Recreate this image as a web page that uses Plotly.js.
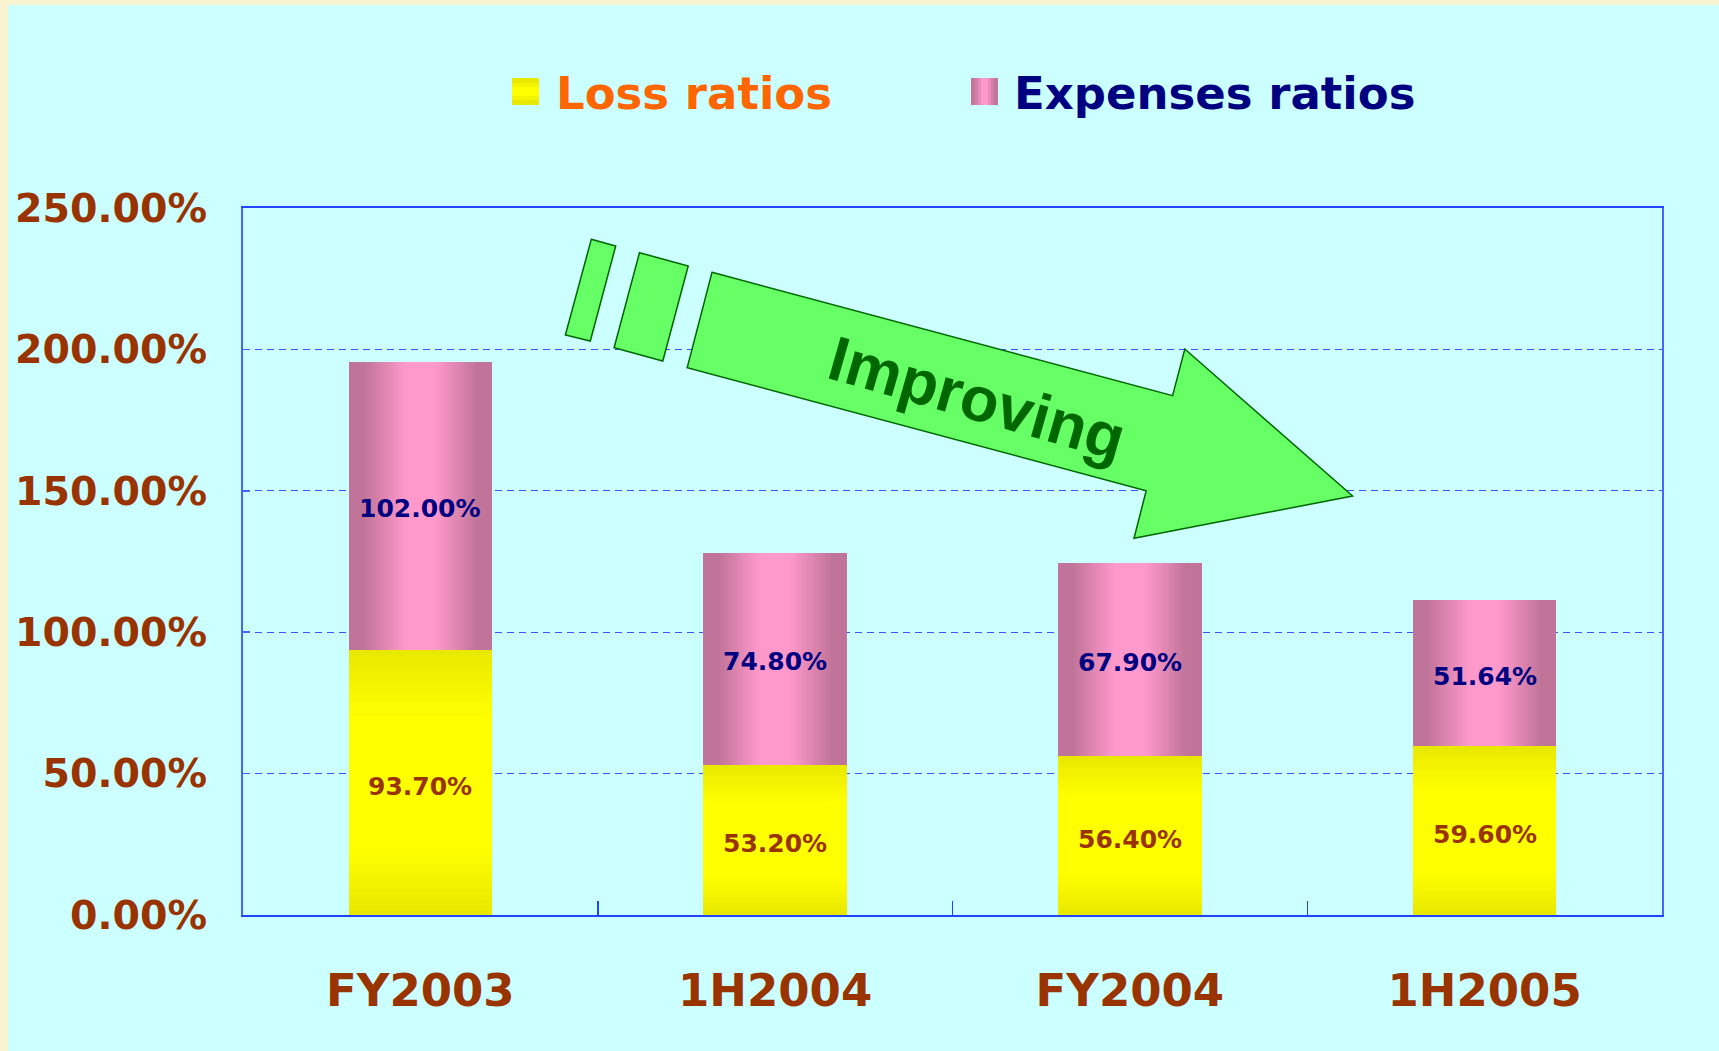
<!DOCTYPE html>
<html><head><meta charset="utf-8">
<script src="https://cdn.plot.ly/plotly-3.0.1.min.js"></script>
<style>html,body{margin:0;padding:0;background:#FAF3D0;overflow:hidden}#chart{width:1719px;height:1051px}</style>
</head><body><div id="chart"></div>
<script>
// ---- data ----
const categories = ['FY2003', '1H2004', 'FY2004', '1H2005'];
const lossRatios = [93.70, 53.20, 56.40, 59.60];
const expenseRatios = [102.00, 74.80, 67.90, 51.64];
const yTickValues = [0, 50, 100, 150, 200, 250];
const yTickLabels = ['0.00%', '50.00%', '100.00%', '150.00%', '200.00%', '250.00%'];
const seriesNames = ['Loss ratios', 'Expenses ratios'];
const arrowLabel = 'Improving';

// ---- geometry helpers (pixels -> paper) ----
const W = 1719, H = 1051, L = 243, R = 1662, T = 208, B = 915;
const pw = R - L, ph = B - T;
const px = x => (x - L) / pw;
const py = y => (B - y) / ph;

const BAR_W = 0.405;
const traces = [];

// Loss ratios: yellow with vertical gradient (darker top & bottom)
const ySteps = 14;
for (let k = 0; k < ySteps; k++) {
  const f = 0.25 * k / (ySteps - 1);
  const t = k / (ySteps - 1);
  const c = `rgb(${Math.round(233 + 22 * t)},${Math.round(233 + 22 * t)},0)`;
  traces.push({
    type: 'bar', x: categories,
    y: lossRatios.map(v => v * (1 - 2 * f)),
    base: lossRatios.map(v => v * f),
    width: BAR_W, marker: {color: c, line: {width: 0}},
    name: seriesNames[0], hoverinfo: 'skip', showlegend: false
  });
}
// Expenses ratios: pink with horizontal gradient (darker edges)
const pSteps = 22;
for (let k = 0; k < pSteps; k++) {
  const t = k / (pSteps - 1);
  const wf = k === 0 ? 1 : 0.8 - 0.58 * t;
  const c0 = [193, 116, 153], c1 = [255, 153, 204];
  const c = `rgb(${c0.map((v, i) => Math.round(v + (c1[i] - v) * t)).join(',')})`;
  traces.push({
    type: 'bar', x: categories,
    y: expenseRatios, base: lossRatios,
    width: BAR_W * wf, marker: {color: c, line: {width: 0}},
    name: seriesNames[1], hoverinfo: 'skip', showlegend: false
  });
}

const annotations = [];
// value labels, centred in each segment
categories.forEach((cat, i) => {
  annotations.push({x: cat, y: lossRatios[i] / 2, xref: 'x', yref: 'y', yshift: -4, showarrow: false,
    text: lossRatios[i].toFixed(2) + '%',
    font: {family: 'DejaVu Sans', size: 25, color: '#993300', weight: 'bold'}});
  annotations.push({x: cat, y: lossRatios[i] + expenseRatios[i] / 2, xref: 'x', yref: 'y', yshift: -3, showarrow: false,
    text: expenseRatios[i].toFixed(2) + '%',
    font: {family: 'DejaVu Sans', size: 25, color: '#000080', weight: 'bold'}});
});

const poly = pts => 'M' + pts.map(p => px(p[0]).toFixed(5) + ',' + py(p[1]).toFixed(5)).join(' L') + ' Z';
const arrowStyle = {type: 'path', xref: 'paper', yref: 'paper', fillcolor: '#66FF66', line: {color: '#006600', width: 1.5}, layer: 'above'};

const shapes = [
  {type: 'rect', xref: 'paper', yref: 'paper', x0: px(8), x1: px(1740), y0: py(5), y1: py(1070),
   fillcolor: '#CCFFFF', line: {width: 0}, layer: 'below'},
  Object.assign({path: poly([[591.3, 239.3], [615.7, 246], [590.3, 341], [565.4, 335]])}, arrowStyle),
  Object.assign({path: poly([[639.5, 252.7], [688.2, 266], [662.8, 361], [614.1, 347.7]])}, arrowStyle),
  Object.assign({path: poly([[712, 272.3], [1172.6, 395.7], [1184.8, 349], [1352.6, 496], [1134, 538.3], [1146.2, 490.7], [687.2, 367.7]])}, arrowStyle),
  // legend swatches
  {type: 'rect', xref: 'paper', yref: 'paper', x0: px(512), x1: px(539), y0: py(105), y1: py(78), fillcolor: '#E8E800', line: {width: 0}},
  {type: 'rect', xref: 'paper', yref: 'paper', x0: px(512), x1: px(539), y0: py(100), y1: py(83), fillcolor: '#F4F400', line: {width: 0}},
  {type: 'rect', xref: 'paper', yref: 'paper', x0: px(512), x1: px(539), y0: py(96), y1: py(87), fillcolor: '#FFFF00', line: {width: 0}},
  {type: 'rect', xref: 'paper', yref: 'paper', x0: px(971), x1: px(998), y0: py(105), y1: py(78), fillcolor: '#C27698', line: {width: 0}},
  {type: 'rect', xref: 'paper', yref: 'paper', x0: px(975), x1: px(994), y0: py(105), y1: py(78), fillcolor: '#D37FA9', line: {width: 0}},
  {type: 'rect', xref: 'paper', yref: 'paper', x0: px(978), x1: px(991), y0: py(105), y1: py(78), fillcolor: '#E88BBA', line: {width: 0}},
  {type: 'rect', xref: 'paper', yref: 'paper', x0: px(981), x1: px(988), y0: py(105), y1: py(78), fillcolor: '#FF99CC', line: {width: 0}}
];

annotations.push(
  {xref: 'paper', yref: 'paper', x: px(554), y: py(94), xanchor: 'left', yanchor: 'middle', showarrow: false,
   text: seriesNames[0], font: {family: 'DejaVu Sans', size: 45, color: '#FF6600', weight: 'bold'}},
  {xref: 'paper', yref: 'paper', x: px(1012), y: py(94), xanchor: 'left', yanchor: 'middle', showarrow: false,
   text: seriesNames[1], font: {family: 'DejaVu Sans', size: 45, color: '#000080', weight: 'bold'}},
  {xref: 'paper', yref: 'paper', x: px(977), y: py(398), xanchor: 'center', yanchor: 'middle', showarrow: false,
   textangle: 16, text: arrowLabel, font: {family: 'Liberation Sans', size: 63, color: '#006600', weight: 'bold'}}
);

const layout = {
  width: W, height: H,
  margin: {l: L, r: W - R, t: T, b: H - B, pad: 0},
  paper_bgcolor: '#FAF3D0', plot_bgcolor: '#CCFFFF',
  barmode: 'overlay', bargap: 0, showlegend: false,
  font: {family: 'DejaVu Sans'},
  xaxis: {
    type: 'category', categoryorder: 'array', categoryarray: categories, range: [-0.5, 3.5],
    showline: true, linecolor: '#2244FF', linewidth: 2, mirror: true,
    ticks: 'inside', tickson: 'boundaries', ticklen: 14, tickcolor: '#2244FF', tickwidth: 1.5,
    tickfont: {family: 'DejaVu Sans', size: 45, color: '#993300', weight: 'bold'},
    ticklabelstandoff: 35, showgrid: false, zeroline: false, fixedrange: true
  },
  yaxis: {
    range: [0, 250], tickmode: 'array', tickvals: yTickValues, ticktext: yTickLabels,
    showline: true, linecolor: '#4466FF', linewidth: 2, mirror: true,
    ticks: 'inside', ticklen: 7, tickcolor: '#4466FF', tickwidth: 1.5,
    showgrid: true, gridcolor: '#3F52FF', griddash: '7px,5px', gridwidth: 1.2, zeroline: false,
    tickfont: {family: 'DejaVu Sans', size: 39.5, color: '#993300', weight: 'bold'},
    ticklabelstandoff: 26, fixedrange: true
  },
  shapes: shapes,
  annotations: annotations
};

Plotly.newPlot('chart', traces, layout, {displayModeBar: false, staticPlot: true});
</script>
</body></html>
